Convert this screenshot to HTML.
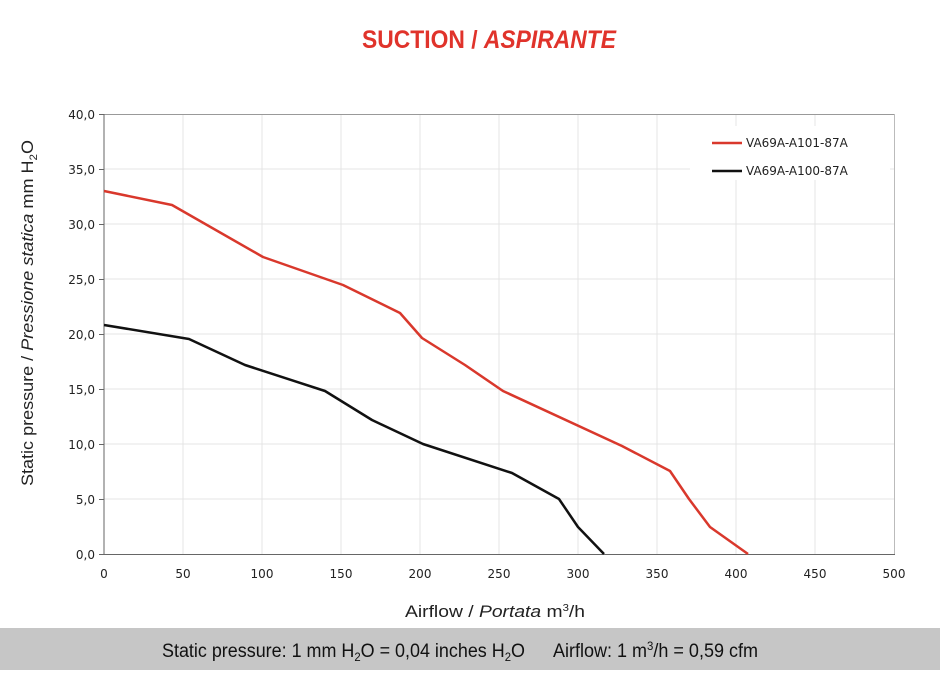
<!DOCTYPE html>
<html><head><meta charset="utf-8"><style>
body{margin:0;width:940px;height:670px;background:#fff;overflow:hidden;font-family:"DejaVu Sans","Liberation Sans",sans-serif}
</style></head><body>
<svg width="940" height="670" xmlns="http://www.w3.org/2000/svg">
<text x="362" y="48" textLength="254" lengthAdjust="spacingAndGlyphs" font-family="Liberation Sans, sans-serif" font-weight="bold" font-size="25" fill="#e0332b">SUCTION / <tspan font-style="italic">ASPIRANTE</tspan></text>
<g stroke="#e4e4e4" stroke-width="1">
<line x1="183" y1="114" x2="183" y2="554"/><line x1="262" y1="114" x2="262" y2="554"/><line x1="341" y1="114" x2="341" y2="554"/><line x1="420" y1="114" x2="420" y2="554"/><line x1="499" y1="114" x2="499" y2="554"/><line x1="578" y1="114" x2="578" y2="554"/><line x1="657" y1="114" x2="657" y2="554"/><line x1="736" y1="114" x2="736" y2="554"/><line x1="815" y1="114" x2="815" y2="554"/>
<line x1="104" y1="169" x2="895" y2="169"/><line x1="104" y1="224" x2="895" y2="224"/><line x1="104" y1="279" x2="895" y2="279"/><line x1="104" y1="334" x2="895" y2="334"/><line x1="104" y1="389" x2="895" y2="389"/><line x1="104" y1="444" x2="895" y2="444"/><line x1="104" y1="499" x2="895" y2="499"/>
</g>
<rect x="690" y="126" width="200" height="54" fill="#fff"/>
<line x1="104" y1="114.5" x2="895" y2="114.5" stroke="#999"/>
<line x1="894.5" y1="114" x2="894.5" y2="554" stroke="#bbb"/>
<line x1="104" y1="114" x2="104" y2="555" stroke="#666"/>
<line x1="104" y1="554.5" x2="895" y2="554.5" stroke="#666"/>
<g stroke="#666"><line x1="99" y1="114.5" x2="104" y2="114.5"/><line x1="99" y1="169.5" x2="104" y2="169.5"/><line x1="99" y1="224.5" x2="104" y2="224.5"/><line x1="99" y1="279.5" x2="104" y2="279.5"/><line x1="99" y1="334.5" x2="104" y2="334.5"/><line x1="99" y1="389.5" x2="104" y2="389.5"/><line x1="99" y1="444.5" x2="104" y2="444.5"/><line x1="99" y1="499.5" x2="104" y2="499.5"/><line x1="99" y1="554.5" x2="104" y2="554.5"/></g>
<g font-size="12" fill="#222" text-anchor="end">
<text x="95" y="119">40,0</text><text x="95" y="174">35,0</text><text x="95" y="229">30,0</text><text x="95" y="284">25,0</text><text x="95" y="339">20,0</text><text x="95" y="394">15,0</text><text x="95" y="449">10,0</text><text x="95" y="504">5,0</text><text x="95" y="559">0,0</text>
</g>
<g font-size="12" fill="#222" text-anchor="middle">
<text x="104" y="578">0</text><text x="183" y="578">50</text><text x="262" y="578">100</text><text x="341" y="578">150</text><text x="420" y="578">200</text><text x="499" y="578">250</text><text x="578" y="578">300</text><text x="657" y="578">350</text><text x="736" y="578">400</text><text x="815" y="578">450</text><text x="894" y="578">500</text>
</g>
<polyline fill="none" stroke="#d9382c" stroke-width="2.5" stroke-linejoin="round" points="104,191 172,205 263,257 343,285 400,313 422,338 465,365 503,391 622,446 670,471 689,499 710,527 748,554"/>
<polyline fill="none" stroke="#111" stroke-width="2.5" stroke-linejoin="round" points="104,325 189,339 245,365 325,391 372,420 423,444 512,473 559,499 578,527 604,554"/>
<line x1="712" y1="143" x2="742" y2="143" stroke="#d9382c" stroke-width="2.5"/>
<line x1="712" y1="171" x2="742" y2="171" stroke="#111" stroke-width="2.5"/>
<text x="746" y="147" font-size="12" fill="#222">VA69A-A101-87A</text>
<text x="746" y="175" font-size="12" fill="#222">VA69A-A100-87A</text>
<text transform="translate(33,486) rotate(-90)" textLength="346" lengthAdjust="spacingAndGlyphs" font-family="Liberation Sans, sans-serif" font-size="17" fill="#222">Static pressure / <tspan font-style="italic">Pressione statica</tspan> mm  H<tspan font-size="11" dy="4">2</tspan><tspan dy="-4">O</tspan></text>
<text x="405" y="617" textLength="180" lengthAdjust="spacingAndGlyphs" font-family="Liberation Sans, sans-serif" font-size="17" fill="#222">Airflow / <tspan font-style="italic">Portata</tspan> m<tspan font-size="10" dy="-6">3</tspan><tspan dy="6">/h</tspan></text>
<rect x="0" y="628" width="940" height="42" fill="#c6c6c6"/>
<text x="162" y="657" textLength="363" lengthAdjust="spacingAndGlyphs" font-family="Liberation Sans, sans-serif" font-size="19" fill="#111">Static pressure: 1 mm H<tspan font-size="12" dy="4">2</tspan><tspan dy="-4">O = 0,04 inches H</tspan><tspan font-size="12" dy="4">2</tspan><tspan dy="-4">O</tspan></text>
<text x="553" y="657" textLength="205" lengthAdjust="spacingAndGlyphs" font-family="Liberation Sans, sans-serif" font-size="19" fill="#111">Airflow: 1 m<tspan font-size="12" dy="-7">3</tspan><tspan dy="7">/h = 0,59 cfm</tspan></text>
</svg>
</body></html>
